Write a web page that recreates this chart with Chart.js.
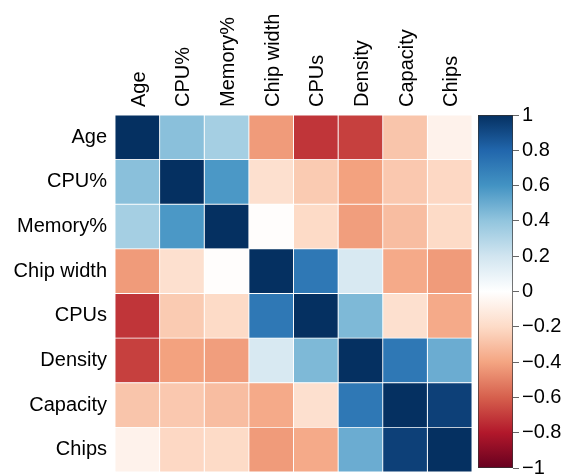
<!DOCTYPE html>
<html>
<head>
<meta charset="utf-8">
<script src="https://cdn.jsdelivr.net/npm/chart.js@4"></script>
<style>
  html, body { margin: 0; padding: 0; background: #fff; }
  #wrap { position: relative; width: 571px; height: 476px; }
  #heatBox { position: absolute; left: 0; top: 0; width: 473px; height: 476px; }
  #barBox { position: absolute; left: 470px; top: 0; width: 101px; height: 476px; }
</style>
</head>
<body>
<div id="wrap">
  <div id="heatBox"><canvas id="heat"></canvas></div>
  <div id="barBox"><canvas id="colorbar"></canvas></div>
</div>
<script>
// ===== Correlation heatmap =====

// Variables (same order for rows and columns)
const variables = ["Age", "CPU%", "Memory%", "Chip width", "CPUs", "Density", "Capacity", "Chips"];

// Correlation values, one row per variable
const ageRow       = [1.00, 0.42, 0.34, -0.43, -0.72, -0.69, -0.28, -0.07];
const cpuPctRow    = [0.42, 1.00, 0.58, -0.17, -0.26, -0.41, -0.27, -0.21];
const memPctRow    = [0.34, 0.58, 1.00, -0.01, -0.20, -0.42, -0.31, -0.20];
const chipWidthRow = [-0.43, -0.17, -0.01, 1.00, 0.72, 0.17, -0.38, -0.43];
const cpusRow      = [-0.72, -0.26, -0.20, 0.72, 1.00, 0.45, -0.17, -0.38];
const densityRow   = [-0.69, -0.41, -0.42, 0.17, 0.45, 1.00, 0.72, 0.50];
const capacityRow  = [-0.28, -0.27, -0.31, -0.38, -0.17, 0.72, 1.00, 0.94];
const chipsRow     = [-0.07, -0.21, -0.20, -0.43, -0.38, 0.50, 0.94, 1.00];

// Colour bar ticks
const scaleTicks = [-1, -0.8, -0.6, -0.4, -0.2, 0, 0.2, 0.4, 0.6, 0.8, 1];

// RdBu palette from -1 to 1
const palette = ["#67001F", "#B2182B", "#D6604D", "#F4A582", "#FDDBC7", "#FFFFFF",
                 "#D1E5F0", "#92C5DE", "#4393C3", "#2166AC", "#053061"];

const matrix = [ageRow, cpuPctRow, memPctRow, chipWidthRow, cpusRow, densityRow, capacityRow, chipsRow];

const FONT = "'Liberation Sans', Arial, sans-serif";
const FONT_SIZE = 20;

function hexToRgb(h) {
  return [parseInt(h.slice(1, 3), 16), parseInt(h.slice(3, 5), 16), parseInt(h.slice(5, 7), 16)];
}

// Value in [-1, 1] -> colour
function colorFor(v) {
  const pos = (Math.max(-1, Math.min(1, v)) + 1) / 2 * (palette.length - 1);
  const i = Math.min(Math.floor(pos), palette.length - 2);
  const t = pos - i;
  const a = hexToRgb(palette[i]);
  const b = hexToRgb(palette[i + 1]);
  const c = a.map((x, k) => Math.round(x + (b[k] - x) * t));
  return `rgb(${c[0]}, ${c[1]}, ${c[2]})`;
}

// drop the extra room chart.js keeps for the end labels
function noEndPadding(axis) {
  axis.paddingTop = 0;
  axis.paddingBottom = 0;
  axis.paddingLeft = 0;
  axis.paddingRight = 0;
}

// One stacked dataset per column: every cell is one unit wide
const datasets = variables.map((name, j) => ({
  label: name,
  data: variables.map(() => 1),
  backgroundColor: matrix.map(row => colorFor(row[j])),
  borderColor: "#ffffff",
  borderWidth: 0.8,
  borderSkipped: false,
  barPercentage: 1,
  categoryPercentage: 1
}));

new Chart(document.getElementById("heat"), {
  type: "bar",
  data: { labels: variables, datasets },
  options: {
    indexAxis: "y",
    responsive: true,
    maintainAspectRatio: false,
    animation: false,
    layout: { padding: { bottom: 4, right: 1 } },
    plugins: { legend: { display: false }, tooltip: { enabled: false } },
    scales: {
      x: {
        type: "linear",
        position: "top",
        stacked: true,
        min: 0,
        max: variables.length,
        grid: { display: false },
        border: { display: false },
        afterBuildTicks: axis => {
          axis.ticks = variables.map((_, i) => ({ value: i + 0.5 }));
        },
        afterFit: axis => { axis.height = 115; noEndPadding(axis); },
        ticks: {
          autoSkip: false,
          minRotation: 90,
          maxRotation: 90,
          padding: 0,
          labelOffset: 26,
          color: "#000",
          font: { family: FONT, size: FONT_SIZE },
          callback: (value, index) => variables[index]
        }
      },
      y: {
        stacked: true,
        grid: { display: false },
        border: { display: false },
        afterFit: axis => { axis.width = 115; noEndPadding(axis); },
        ticks: {
          padding: 0,
          color: "#000",
          font: { family: FONT, size: FONT_SIZE }
        }
      }
    }
  }
});

// Colour legend drawn as one floating bar from -1 to 1
function gradientFill(context) {
  const area = context.chart.chartArea;
  if (!area) return palette[5];
  const g = context.chart.ctx.createLinearGradient(0, area.bottom, 0, area.top);
  palette.forEach((c, i) => g.addColorStop(i / (palette.length - 1), c));
  return g;
}

new Chart(document.getElementById("colorbar"), {
  type: "bar",
  data: {
    labels: [""],
    datasets: [{
      data: [[scaleTicks[0], scaleTicks[scaleTicks.length - 1]]],
      backgroundColor: gradientFill,
      borderColor: "#333",
      borderWidth: 1,
      borderSkipped: false,
      barPercentage: 1,
      categoryPercentage: 1
    }]
  },
  options: {
    responsive: true,
    maintainAspectRatio: false,
    animation: false,
    layout: { padding: { left: 8, top: 115, bottom: 8 } },
    plugins: { legend: { display: false }, tooltip: { enabled: false } },
    scales: {
      x: { display: false },
      y: {
        position: "right",
        min: -1,
        max: 1,
        grid: { drawOnChartArea: false, drawTicks: true, tickLength: 6, color: "#666" },
        border: { display: false },
        afterBuildTicks: axis => {
          axis.ticks = scaleTicks.map(v => ({ value: v }));
        },
        afterFit: axis => { axis.width = 58; noEndPadding(axis); },
        ticks: {
          padding: 3,
          color: "#000",
          font: { family: FONT, size: FONT_SIZE },
          callback: value => {
            const s = String(Math.round(value * 10) / 10);
            return s.replace("-", "\u2212");
          }
        }
      }
    }
  }
});
</script>
</body>
</html>
